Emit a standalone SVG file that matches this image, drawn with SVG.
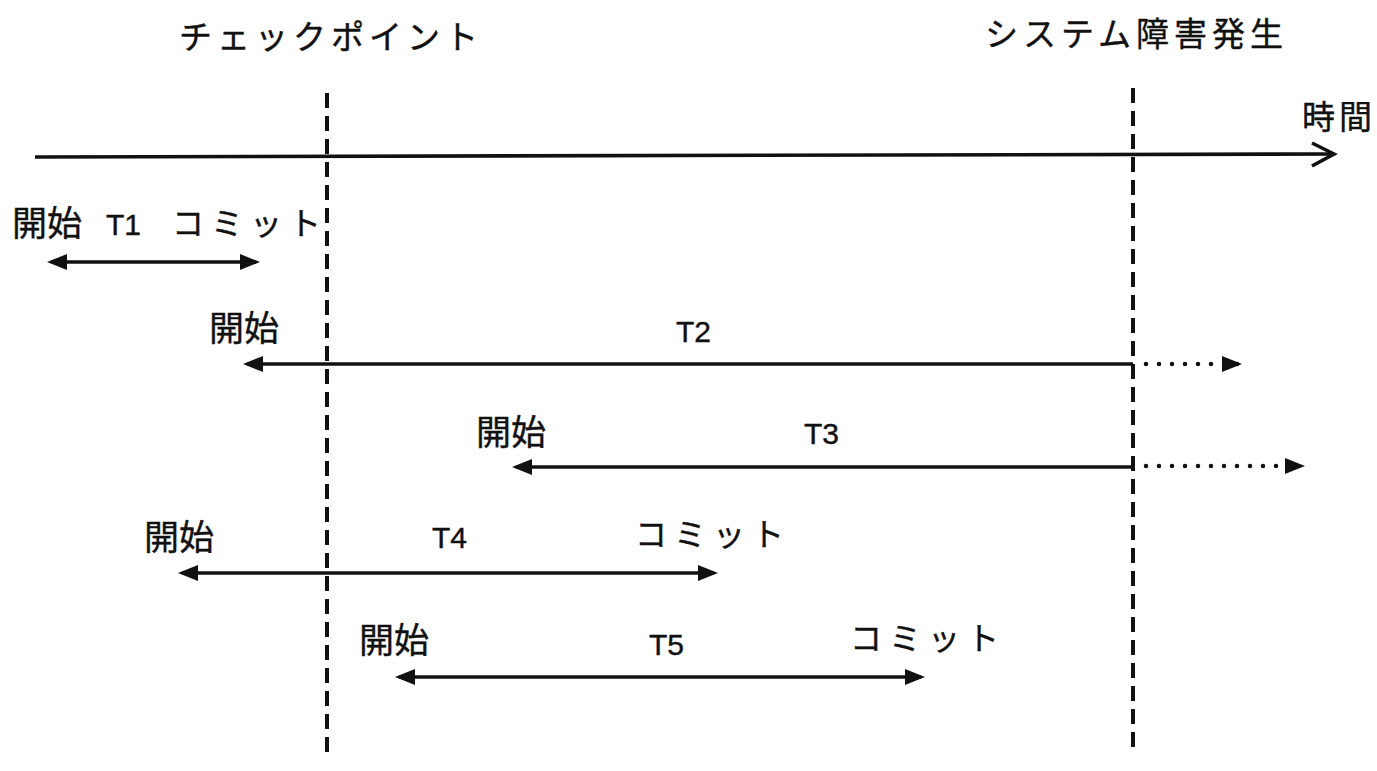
<svg xmlns="http://www.w3.org/2000/svg" width="1377" height="771" viewBox="0 0 1377 771">
<style>
  text { font-family: "Liberation Sans", "Noto Sans CJK JP", sans-serif; fill: #111; stroke: #111; stroke-width: 0.4; }
  .kj { font-size: 35px; }
  .lat { font-size: 30px; }
  .cm { font-size: 32px; letter-spacing: 7px; }
  .hd { font-size: 33px; letter-spacing: 5px; }
  .tm { font-size: 33px; letter-spacing: 4px; }
  .sol { stroke: #111; stroke-width: 3.6; fill: none; }
  .dash { stroke: #111; stroke-width: 4; stroke-dasharray: 15 8; fill: none; }
  .dot { stroke: #111; stroke-width: 4.5; stroke-linecap: round; stroke-dasharray: 0 13; fill: none; }
</style>
<defs>
  <marker id="ah" viewBox="0 0 20 20" markerWidth="20" markerHeight="20" refX="16" refY="10" markerUnits="userSpaceOnUse" orient="auto-start-reverse">
    <path d="M0,2 L20,10 L0,18 z" fill="#111"/>
  </marker>
</defs>
<rect width="1377" height="771" fill="#fff"/>

<g id="axis">
  <line class="sol" x1="35" y1="157" x2="1331" y2="154" stroke-width="4"/>
  <polyline class="sol" points="1312,143 1334,154 1312,166" stroke-width="4" stroke-linejoin="miter"/>
  <text class="tm" x="1302" y="129">時間</text>
</g>

<g id="checkpoint">
  <line class="dash" x1="327" y1="93" x2="327" y2="755"/>
  <text class="hd" x="179" y="49">チェックポイント</text>
</g>

<g id="failure">
  <line class="dash" x1="1133" y1="88" x2="1133" y2="752"/>
  <text class="hd" x="985" y="46">システム障害発生</text>
</g>

<g id="t1">
  <text class="kj" x="12" y="236">開始</text>
  <text class="lat" x="106" y="235">T1</text>
  <text class="cm" x="172" y="235">コミット</text>
</g>
<g id="t2">
  <text class="kj" x="209" y="341">開始</text>
  <text class="lat" x="676" y="342">T2</text>
</g>
<g id="t3">
  <text class="kj" x="476" y="445">開始</text>
  <text class="lat" x="804" y="444">T3</text>
</g>
<g id="t4">
  <text class="kj" x="144" y="550">開始</text>
  <text class="lat" x="432" y="548">T4</text>
  <text class="cm" x="635" y="546">コミット</text>
</g>
<g id="t5">
  <text class="kj" x="359" y="653">開始</text>
  <text class="lat" x="649" y="655">T5</text>
  <text class="cm" x="850" y="650">コミット</text>
</g>

<g id="connectors">
  <line class="sol" x1="51" y1="262" x2="256" y2="262" marker-start="url(#ah)" marker-end="url(#ah)"/>
  <line class="sol" x1="247" y1="364" x2="1133" y2="364" marker-start="url(#ah)"/>
  <line class="dot" x1="1146" y1="364" x2="1238" y2="364" marker-end="url(#ah)"/>
  <line class="sol" x1="516" y1="467" x2="1133" y2="467" marker-start="url(#ah)"/>
  <line class="dot" x1="1146" y1="466" x2="1301" y2="466" marker-end="url(#ah)"/>
  <line class="sol" x1="182" y1="573" x2="714" y2="573" marker-start="url(#ah)" marker-end="url(#ah)"/>
  <line class="sol" x1="399" y1="677" x2="921" y2="677" marker-start="url(#ah)" marker-end="url(#ah)"/>
</g>
</svg>
